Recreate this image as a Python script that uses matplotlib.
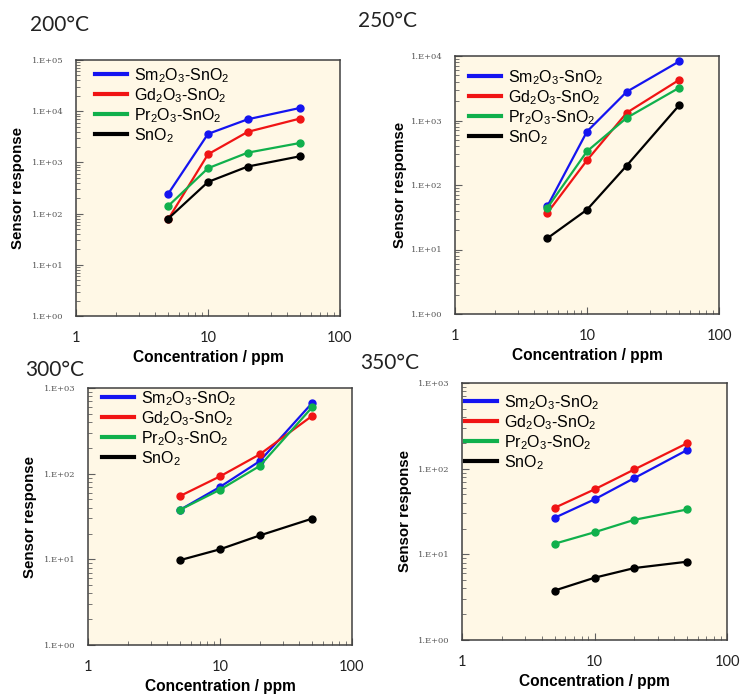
import math
import matplotlib
matplotlib.use("Agg")
import matplotlib.pyplot as plt
from matplotlib.ticker import FixedLocator, LogLocator, NullFormatter, FuncFormatter

plt.rcParams['mathtext.fontset'] = 'custom'
plt.rcParams['mathtext.rm'] = 'Liberation Sans'
plt.rcParams['mathtext.it'] = 'Liberation Sans:italic'
plt.rcParams['mathtext.bf'] = 'Liberation Sans:bold'

# Gas concentrations (ppm)
conc = [5, 10, 20, 50]

series_labels = [r'Sm$_2$O$_3$-SnO$_2$', r'Gd$_2$O$_3$-SnO$_2$',
                 r'Pr$_2$O$_3$-SnO$_2$', r'SnO$_2$']
series_colors = ['#1414F0', '#F01414', '#10B04C', '#000000']

titles = ['200°C', '250°C', '300°C', '350°C']
ylabels = ['Sensor response', 'Sensor respomse', 'Sensor response', 'Sensor response']
xlabel = 'Concentration / ppm'

# Sensor response at each temperature: Sm2O3, Gd2O3, Pr2O3, SnO2
resp_200 = [[245, 3600, 6950, 11600],
            [78, 1440, 3950, 7200],
            [141, 770, 1550, 2400],
            [80, 415, 830, 1320]]
resp_250 = [[46.6, 675, 2790, 8260],
            [36.7, 242, 1320, 4270],
            [44, 333, 1100, 3220],
            [14.9, 41.4, 200, 1730]]
resp_300 = [[38, 70, 140, 671],
            [55, 93, 168, 474],
            [38, 65, 123, 598],
            [9.8, 13.1, 19.0, 29.9]]
resp_350 = [[26.7, 43.8, 77.7, 165],
            [34.9, 57.3, 98, 198],
            [13.3, 18.1, 25.3, 33.4],
            [3.78, 5.33, 6.92, 8.2]]

ytops = [1e5, 1e4, 1e3, 1e3]

# Panel geometry in pixels: left, right, top, bottom; legend offsets; title pos
W, H = 740, 696
panels = [
    dict(box=(76, 340, 60, 316), title=(30, 25), leg=(19, 6), ylab=-0.193),
    dict(box=(455, 719, 56, 314), title=(358, 21), leg=(14, 12), ylab=-0.182),
    dict(box=(88, 352, 388, 645), title=(25, 370), leg=(14, 1), ylab=-0.193),
    dict(box=(462, 727, 383, 640), title=(360, 363), leg=(3, 10), ylab=-0.189),
]
all_data = [resp_200, resp_250, resp_300, resp_350]

fig = plt.figure(figsize=(W / 100, H / 100), dpi=100)
fig.patch.set_facecolor('white')


def sci_fmt(v, pos):
    e = int(round(math.log10(v)))
    return '1.E+%02d' % e


for p, data, title, ylab, ytop in zip(panels, all_data, titles, ylabels, ytops):
    l, r, t, b = p['box']
    ax = fig.add_axes([l / W, (H - b) / H, (r - l) / W, (b - t) / H])
    ax.set_facecolor('#FFF8E6')
    for vals, col, lab in zip(data, series_colors, series_labels):
        ax.plot(conc, vals, color=col, lw=1.6, marker='o', ms=5, label=lab)
    ax.set_xscale('log')
    ax.set_yscale('log')
    ax.set_xlim(1, 100)
    ax.set_ylim(1, ytop)

    ax.xaxis.set_major_locator(FixedLocator([1, 10, 100]))
    ax.xaxis.set_major_formatter(FuncFormatter(lambda v, pos: '%d' % round(v)))
    ax.xaxis.set_minor_locator(LogLocator(base=10, subs=range(2, 10)))
    ax.xaxis.set_minor_formatter(NullFormatter())
    ax.yaxis.set_major_locator(LogLocator(base=10, numticks=10))
    ax.yaxis.set_major_formatter(FuncFormatter(sci_fmt))
    ax.yaxis.set_minor_locator(LogLocator(base=10, subs=range(2, 10), numticks=10))
    ax.yaxis.set_minor_formatter(NullFormatter())

    ax.tick_params(axis='both', which='both', direction='in', top=False, right=False,
                   color='#606060')
    ax.tick_params(axis='both', which='major', length=5, width=0.8)
    ax.tick_params(axis='both', which='minor', length=3, width=0.6)
    ax.tick_params(axis='y', which='major', pad=9, labelsize=6, labelcolor='#555555')
    ax.tick_params(axis='x', which='major', pad=11, labelsize=10.5, labelcolor='#222222')
    for lbl in ax.get_yticklabels():
        lbl.set_family('DejaVu Serif')
    for lbl in ax.get_xticklabels():
        lbl.set_family('Lato')
    for s in ax.spines.values():
        s.set_color('#404040')
        s.set_linewidth(1.1)

    ax.set_xlabel(xlabel, fontsize=11.2, fontweight='bold', family='Liberation Sans')
    ax.xaxis.set_label_coords(0.5, -34 / (b - t))
    ax.set_ylabel(ylab, fontsize=10.8, fontweight='bold', family='Liberation Sans')
    ax.yaxis.set_label_coords(p['ylab'], 0.5)

    lx, ly = p['leg']
    leg = ax.legend(loc='upper left', bbox_to_anchor=(lx / (r - l), 1 - ly / (b - t)),
                    frameon=False, borderaxespad=0, borderpad=0,
                    handlelength=2.0, handletextpad=0.45, labelspacing=0.08,
                    prop={'family': 'Liberation Sans', 'size': 11.5})
    for h in leg.legend_handles:
        h.set_marker('')
        h.set_linewidth(3)

    tx, ty = p['title']
    fig.text(tx / W, 1 - ty / H, title, fontsize=15, family='Lato',
             ha='left', va='center', color='#222222')

fig.savefig('out.png', dpi=100)
